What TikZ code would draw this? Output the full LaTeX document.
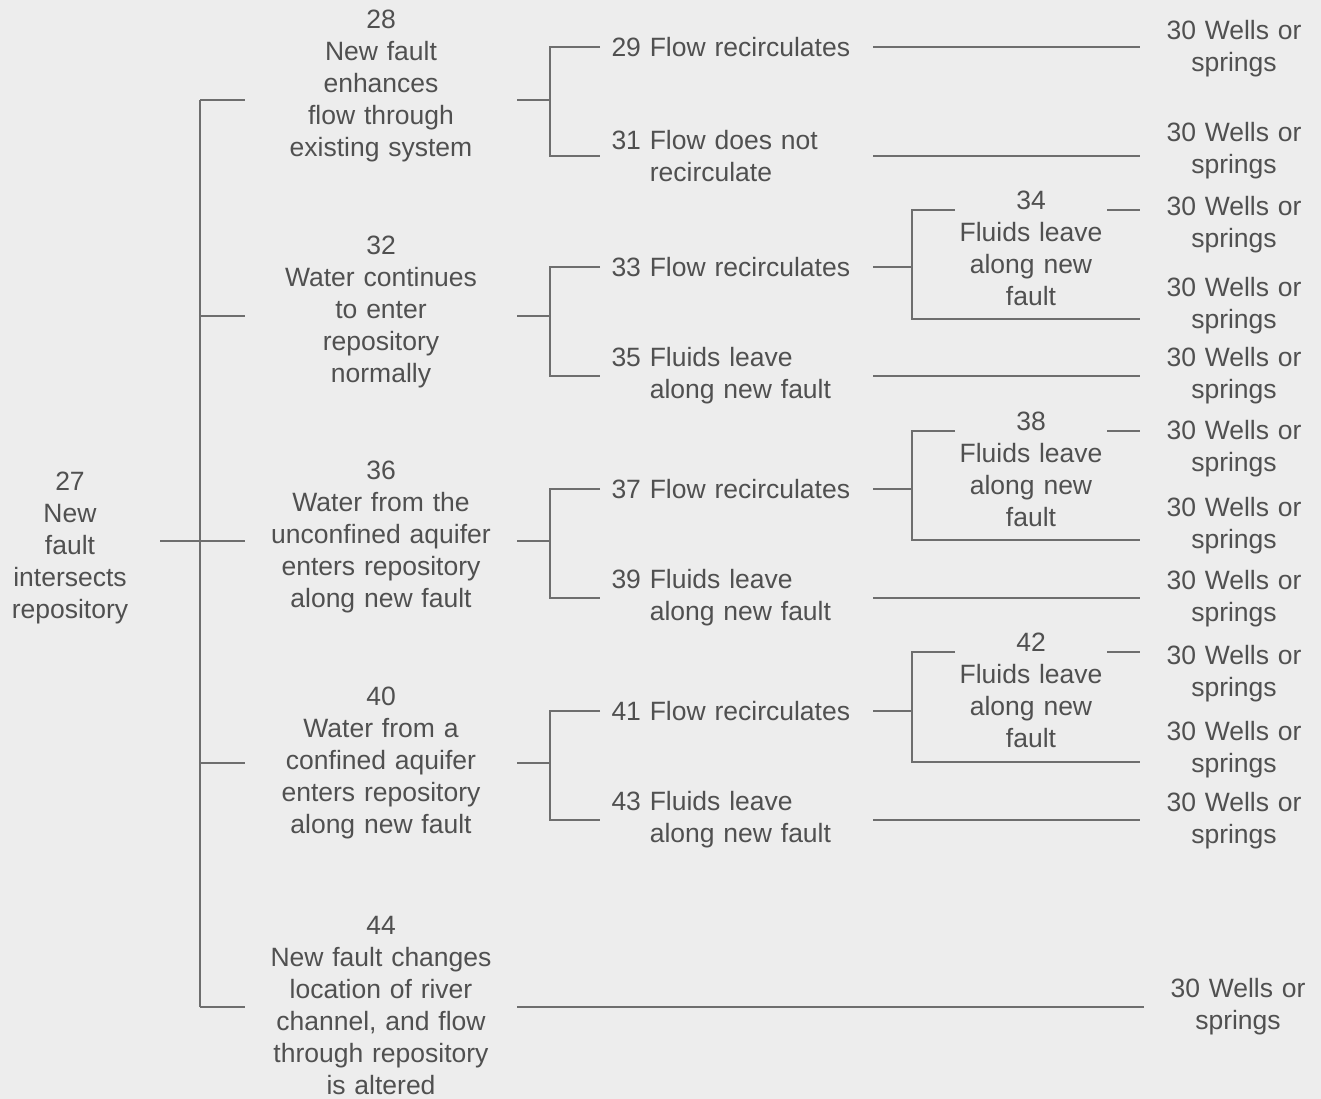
\documentclass[tikz,border=0pt]{standalone}
\usepackage{fontspec}
\setmainfont{Liberation Sans}
\usetikzlibrary{positioning,calc}
\definecolor{Ink}{HTML}{505050}
\definecolor{Rule}{HTML}{6E6E6E}
\definecolor{Paper}{HTML}{EDEDED}

\begin{document}
\begin{tikzpicture}[x=1pt,y=-1pt,line width=2pt,draw=Rule,
 every node/.style={text=Ink,inner sep=0pt,font=\fontsize{26.5}{32}\selectfont},
 rootbox/.style={text width=130pt,align=center,outer sep=25pt},
 causebox/.style={text width=240pt,align=center,outer sep=16pt},
 flowbox/.style={anchor=west,text width=250pt,align=left,outer sep=11.5pt},
 leavebox/.style={text width=150pt,align=center},
 wellbox/.style={text width=150pt,align=center,outer sep=19pt}]
\fill[Paper](0,0)rectangle(1321,1099);
\node[rootbox](n27)at(70,548){27\\New\\fault\\intersects\\repository};
\node[causebox](n28)at(381,86){28\\New fault\\enhances\\flow through\\existing system};
\node[causebox](n32)at(381,312){32\\Water continues\\to enter\\repository\\normally};
\node[causebox](n36)at(381,537){36\\Water from the\\unconfined aquifer\\enters repository\\along new fault};
\node[causebox](n40)at(381,763){40\\Water from a\\confined aquifer\\enters repository\\along new fault};
\node[causebox](n44)at(381,1006){44\\New fault changes\\location of river\\channel, and flow\\through repository\\is altered};
\node[flowbox](n29)at(600,47){29 Flow recirculates};
\node[flowbox](n31)at(600,156){31 Flow does not\\\phantom{31 }recirculate};
\node[flowbox](n33)at(600,267){33 Flow recirculates};
\node[flowbox](n35)at(600,376){35 Fluids leave\\\phantom{35 }along new fault};
\node[flowbox](n37)at(600,489){37 Flow recirculates};
\node[flowbox](n39)at(600,598){39 Fluids leave\\\phantom{39 }along new fault};
\node[flowbox](n41)at(600,711){41 Flow recirculates};
\node[flowbox](n43)at(600,820){43 Fluids leave\\\phantom{43 }along new fault};
\node[leavebox](n34)at(1031,248){34\\Fluids leave\\along new\\fault};
\node[leavebox](n38)at(1031,469){38\\Fluids leave\\along new\\fault};
\node[leavebox](n42)at(1031,690){42\\Fluids leave\\along new\\fault};
\foreach \n/\y in {29/49,31/151,35/376,39/599,43/821}{
\node[wellbox](w\n)at(1234,\y){30 Wells or\\springs};}
\foreach \n/\u/\v in {34/225/306,38/449/526,42/674/750}{
\node[wellbox](wa\n)at(1234,\u){30 Wells or\\springs};
\node[wellbox](wb\n)at(1234,\v){30 Wells or\\springs};}
\node[wellbox](w44)at(1238,1007){30 Wells or\\springs};
\foreach \n/\y in {28/100,32/316,36/541,40/763,44/1007}{
\coordinate(t\n)at(200,\y);\coordinate(f\n)at(550,\y);}
\draw(t28)--(t44);
\draw(n27.east|-t36)--(t36);
\foreach \n in {28,32,36,40,44}\draw(t\n)--(t\n-|n\n.west);
\foreach \p/\a/\b in {28/29/31,32/33/35,36/37/39,40/41/43}{
\draw(t\p-|n\p.east)--(f\p);\draw(n\a.west)-|(f\p)|-(n\b.west);}
\draw(t44-|n44.east)--(t44-|w44.west);
\foreach \n in {29,31,35,39,43}\draw(n\n.east)--(n\n.east-|w\n.west);
\foreach \a/\b/\u/\v in {33/34/210/319,37/38/431/540,41/42/652/762}{
\coordinate(ga\a)at(912,\u);\coordinate(gb\a)at(912,\v);
\draw(n\a.east)--(n\a.east-|ga\a);
\draw(ga\a-|n\b.west)--(ga\a)--(gb\a)--(gb\a-|wb\b.west);
\draw(ga\a-|n\b.east)--(ga\a-|wa\b.west);}
\end{tikzpicture}
\end{document}
